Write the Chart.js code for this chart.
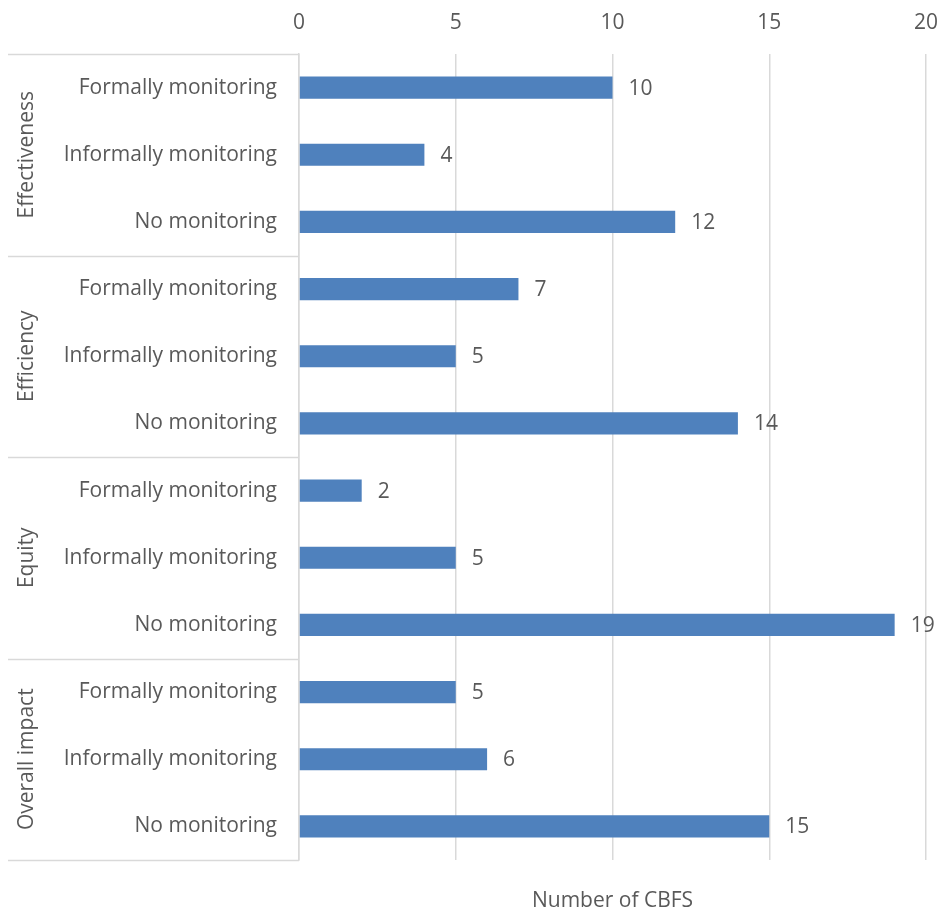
<!DOCTYPE html>
<html>
<head>
<meta charset="utf-8">
<script src="https://cdn.jsdelivr.net/npm/chart.js@4"></script>
<style>
  html, body { margin: 0; padding: 0; background: #fff; }
  #wrap { width: 940px; height: 912px; }
</style>
</head>
<body>
<div id="wrap"><canvas id="cbfsChart" width="940" height="912"></canvas></div>
<script>
// Chart data
const groups = ['Effectiveness', 'Efficiency', 'Equity', 'Overall impact'];
const categories = ['Formally monitoring', 'Informally monitoring', 'No monitoring'];
const effectiveness = [10, 4, 12];
const efficiency = [7, 5, 14];
const equity = [2, 5, 19];
const overallImpact = [5, 6, 15];
const xTicks = [0, 5, 10, 15, 20];
const axisTitle = 'Number of CBFS';

const labels = [];
groups.forEach(() => categories.forEach(c => labels.push(c)));
const values = [].concat(effectiveness, efficiency, equity, overallImpact);

const textColor = '#595959';
const gridColor = '#d9d9d9';
const fontFamily = '"Open Sans", sans-serif';
const fontSize = 21;

// Draws value labels at the end of each bar
const valueLabels = {
    id: 'valueLabels',
    afterDatasetsDraw(chart) {
        const ctx = chart.ctx;
        const meta = chart.getDatasetMeta(0);
        ctx.save();
        ctx.font = fontSize + 'px ' + fontFamily;
        ctx.fillStyle = textColor;
        ctx.textAlign = 'left';
        ctx.textBaseline = 'middle';
        meta.data.forEach((bar, i) => {
            ctx.fillText(values[i], bar.x + 16, bar.y + 1);
        });
        ctx.restore();
    }
};

// Draws the group labels, separator lines and the x axis title
const groupAxis = {
    id: 'groupAxis',
    afterDraw(chart) {
        const ctx = chart.ctx;
        const y = chart.scales.y;
        const area = chart.chartArea;
        const left = 8;
        ctx.save();
        ctx.strokeStyle = gridColor;
        ctx.lineWidth = 1.5;
        for (let g = 0; g <= groups.length; g++) {
            const py = Math.round(y.getPixelForValue(g * categories.length - 0.5)) + 0.5;
            ctx.beginPath();
            ctx.moveTo(left, py);
            ctx.lineTo(area.left, py);
            ctx.stroke();
        }
        ctx.font = fontSize + 'px ' + fontFamily;
        ctx.fillStyle = textColor;
        ctx.textAlign = 'center';
        ctx.textBaseline = 'middle';
        groups.forEach((name, g) => {
            const top = y.getPixelForValue(g * categories.length - 0.5);
            const bottom = y.getPixelForValue((g + 1) * categories.length - 0.5);
            ctx.save();
            ctx.translate(27, (top + bottom) / 2);
            ctx.rotate(-Math.PI / 2);
            ctx.fillText(name, 0, 0);
            ctx.restore();
        });
        // x axis title under the plot
        ctx.fillText(axisTitle, (area.left + area.right) / 2, area.bottom + 41);
        ctx.restore();
    }
};

const ctx = document.getElementById('cbfsChart').getContext('2d');
const cbfsChart = new Chart(ctx, {
    type: 'bar',
    data: {
        labels: labels,
        datasets: [{
            label: axisTitle,
            data: values,
            backgroundColor: '#4f81bd',
            borderWidth: 0,
            categoryPercentage: 1,
            barPercentage: 0.33
        }]
    },
    options: {
        indexAxis: 'y',
        responsive: false,
        animation: false,
        layout: { padding: { left: 0, right: 14, top: 0, bottom: 52 } },
        scales: {
            x: {
                position: 'top',
                min: 0,
                max: 20,
                afterBuildTicks(scale) {
                    scale.ticks = xTicks.map(v => ({ value: v }));
                },
                afterFit(scale) {
                    scale.height = 54;
                    scale.paddingRight = 0;
                    scale.paddingLeft = 0;
                },
                ticks: {
                    color: textColor,
                    font: { family: fontFamily, size: fontSize },
                    padding: 18
                },
                grid: {
                    color: gridColor,
                    lineWidth: 1.5,
                    drawTicks: false
                },
                border: { display: false }
            },
            y: {
                afterFit(scale) { scale.width = 299; },
                ticks: {
                    color: textColor,
                    font: { family: fontFamily, size: fontSize },
                    padding: 22
                },
                grid: { display: false, drawTicks: false },
                border: { display: true, color: gridColor, width: 1.5 }
            }
        },
        plugins: {
            legend: { display: false },
            tooltip: { enabled: false }
        }
    },
    plugins: [valueLabels, groupAxis]
});
</script>
</body>
</html>
